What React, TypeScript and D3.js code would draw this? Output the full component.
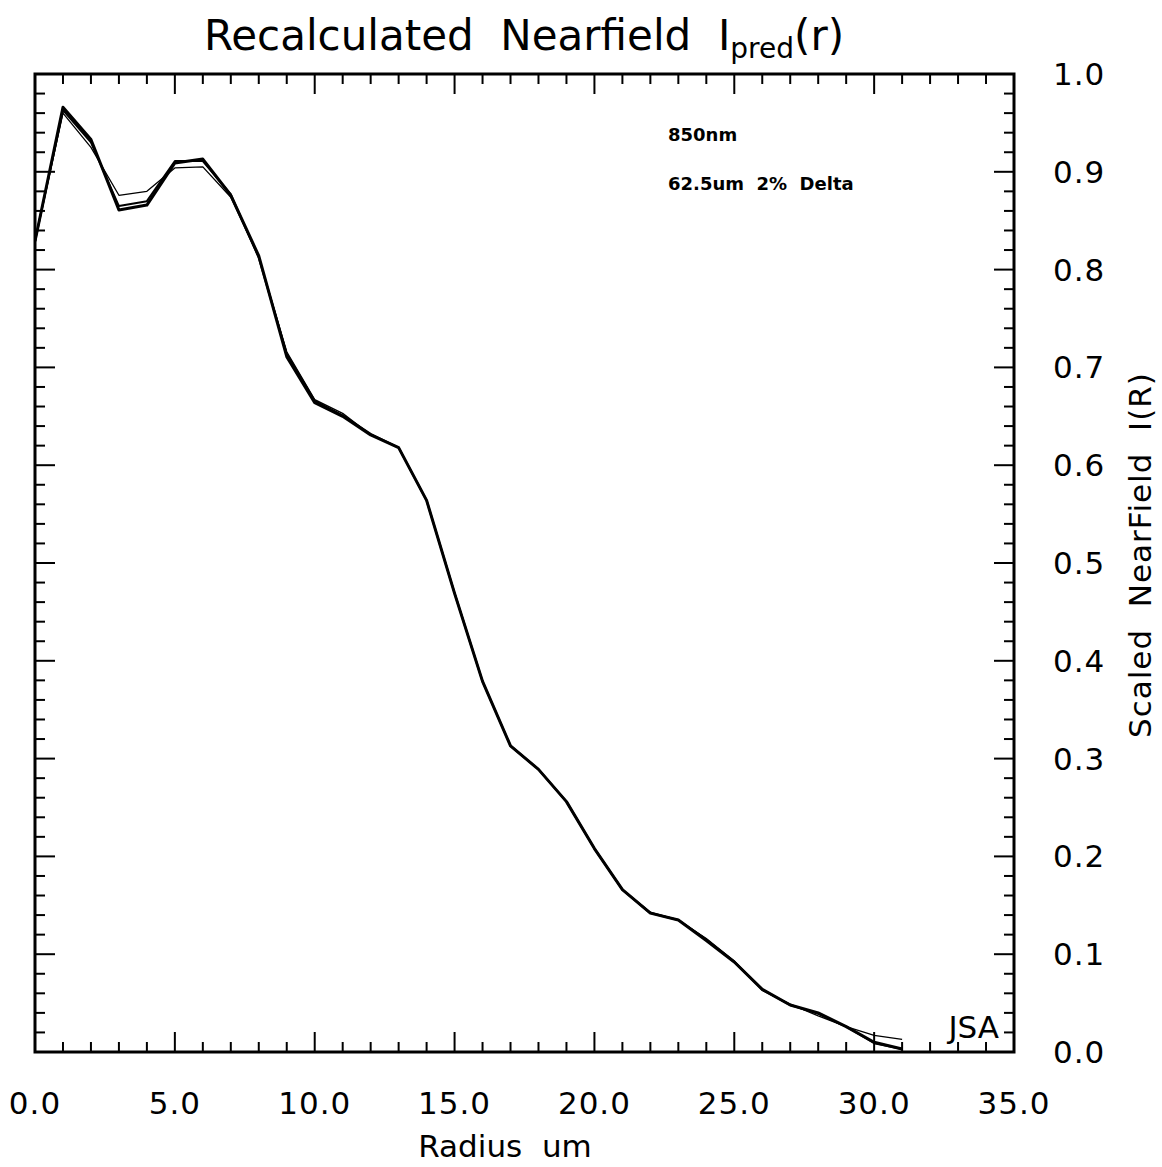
import React from "react";
import * as d3 from "d3";

const RADIUS = [0, 1, 2, 3, 4, 5, 6, 7, 8, 9, 10, 11, 12, 13, 14, 15, 16, 17, 18, 19, 20, 21, 22, 23, 24, 25, 26, 27, 28, 29, 30, 31];

const SERIES_THICK = [0.829, 0.966, 0.933, 0.861, 0.866, 0.909, 0.913, 0.876, 0.814, 0.711, 0.664, 0.650, 0.631, 0.618, 0.564, 0.469, 0.379, 0.313, 0.289, 0.256, 0.208, 0.166, 0.142, 0.135, 0.114, 0.092, 0.064, 0.048, 0.040, 0.026, 0.010, 0.003];
const SERIES_MEDIUM = [0.829, 0.963, 0.930, 0.865, 0.870, 0.911, 0.911, 0.877, 0.812, 0.714, 0.666, 0.651, 0.632, 0.618, 0.564, 0.469, 0.379, 0.313, 0.289, 0.256, 0.208, 0.166, 0.142, 0.135, 0.115, 0.092, 0.064, 0.048, 0.039, 0.026, 0.009, 0.003];
const SERIES_THIN = [0.829, 0.960, 0.925, 0.876, 0.880, 0.904, 0.905, 0.874, 0.813, 0.716, 0.667, 0.653, 0.631, 0.618, 0.564, 0.470, 0.379, 0.313, 0.289, 0.256, 0.208, 0.166, 0.143, 0.135, 0.116, 0.093, 0.063, 0.049, 0.037, 0.026, 0.017, 0.013];

const X_DOMAIN = [0, 35];
const Y_DOMAIN = [0, 1];

const TITLE_MAIN = "Recalculated  Nearfield  I";
const TITLE_SUB = "pred";
const TITLE_END = "(r)";
const X_LABEL = "Radius  um";
const Y_LABEL = "Scaled  NearField  I(R)";
const NOTE_1 = "850nm";
const NOTE_2 = "62.5um  2%  Delta";
const SIGNATURE = "JSA";

const W = 1162;
const H = 1167;
const L = 35, R = 1014, T = 74, B = 1052;
const FONT = "'DejaVu Sans', sans-serif";

export default function App() {
  const x = d3.scaleLinear().domain(X_DOMAIN).range([L, R]);
  const y = d3.scaleLinear().domain(Y_DOMAIN).range([B, T]);
  const fmt = d3.format(".1f");

  const xMinor = x.ticks(35);
  const xMajor = x.ticks(7);
  const yMinor = y.ticks(50);
  const yMajor = y.ticks(10);
  const isMajorX = (v: number) => xMajor.some((m) => Math.abs(m - v) < 1e-9);
  const isMajorY = (v: number) => yMajor.some((m) => Math.abs(m - v) < 1e-9);

  const line = (vals: number[]) =>
    d3.line<number>().x((_, i) => x(RADIUS[i])).y((d) => y(d))(vals) || "";

  const series = [
    { vals: SERIES_THIN, w: 1.3 },
    { vals: SERIES_MEDIUM, w: 2 },
    { vals: SERIES_THICK, w: 3 },
  ];

  return (
    <svg
      width={W}
      height={H}
      style={{ position: "absolute", left: 0, top: 0, background: "#fff" }}
      fontFamily={FONT}
    >
      <rect x={0} y={0} width={W} height={H} fill="#fff" />
      <defs>
        <clipPath id="plotclip">
          <rect x={L} y={T} width={R - L} height={B - T} />
        </clipPath>
      </defs>

      {/* ticks */}
      <g stroke="#000" strokeWidth={2}>
        {xMinor.map((v) => {
          const len = isMajorX(v) ? 20 : 10;
          return (
            <g key={"xt" + v}>
              <line x1={x(v)} x2={x(v)} y1={B} y2={B - len} />
              <line x1={x(v)} x2={x(v)} y1={T} y2={T + len} />
            </g>
          );
        })}
        {yMinor.map((v) => {
          const len = isMajorY(v) ? 20 : 10;
          return (
            <g key={"yt" + v}>
              <line x1={L} x2={L + len} y1={y(v)} y2={y(v)} />
              <line x1={R} x2={R - len} y1={y(v)} y2={y(v)} />
            </g>
          );
        })}
      </g>

      {/* data */}
      <g clipPath="url(#plotclip)" fill="none" stroke="#000" strokeLinejoin="round">
        {series.map((s, i) => (
          <path key={i} d={line(s.vals)} strokeWidth={s.w} />
        ))}
      </g>

      {/* frame */}
      <rect x={L} y={T} width={R - L} height={B - T} fill="none" stroke="#000" strokeWidth={3} />

      {/* x tick labels */}
      {xMajor.map((v) => (
        <text key={"xl" + v} x={x(v)} y={1114} textAnchor="middle" fontSize={31} letterSpacing={1}>
          {fmt(v)}
        </text>
      ))}
      {/* y tick labels (right) */}
      {yMajor.map((v) => (
        <text key={"yl" + v} x={1053} y={y(v) + 11} textAnchor="start" fontSize={31} letterSpacing={1}>
          {fmt(v)}
        </text>
      ))}

      {/* title */}
      <text x={524} y={50} textAnchor="middle" fontSize={42} style={{ whiteSpace: "pre" }}>
        {TITLE_MAIN}
        <tspan fontSize={28} dy={8}>{TITLE_SUB}</tspan>
        <tspan fontSize={42} dy={-8}>{TITLE_END}</tspan>
      </text>

      {/* axis titles */}
      <text x={505} y={1157} textAnchor="middle" fontSize={31} style={{ whiteSpace: "pre" }}>
        {X_LABEL}
      </text>
      <text
        transform={`translate(1151,555) rotate(-90)`}
        textAnchor="middle"
        fontSize={31}
        letterSpacing={1}
        style={{ whiteSpace: "pre" }}
      >
        {Y_LABEL}
      </text>

      {/* annotations */}
      <text x={668} y={141} fontSize={18} fontWeight="bold">{NOTE_1}</text>
      <text x={668} y={190} fontSize={18} fontWeight="bold" style={{ whiteSpace: "pre" }}>{NOTE_2}</text>
      <text x={999} y={1038} textAnchor="end" fontSize={31}>{SIGNATURE}</text>
    </svg>
  );
}
